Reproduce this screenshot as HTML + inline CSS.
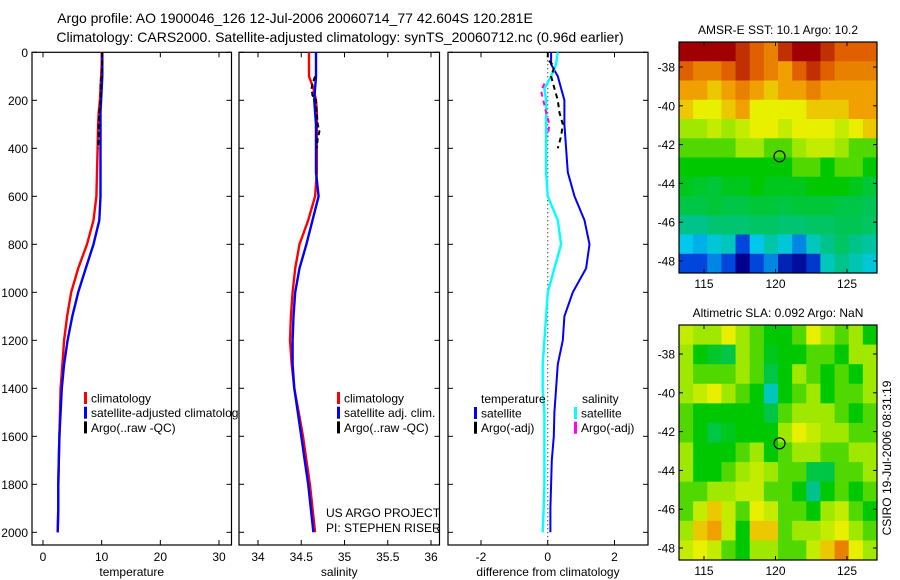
<!DOCTYPE html>
<html><head><meta charset="utf-8">
<style>
html,body{margin:0;padding:0;background:#fff;}
svg{display:block;font-family:"Liberation Sans",sans-serif;}
</style></head>
<body>
<svg id="fig" width="900" height="580" viewBox="0 0 900 580" xmlns="http://www.w3.org/2000/svg">
<text x="295" y="23" font-size="14" text-anchor="middle">Argo profile: AO 1900046_126 12-Jul-2006 20060714_77 42.604S 120.281E</text>
<text x="340" y="42" font-size="14" text-anchor="middle">Climatology: CARS2000. Satellite-adjusted climatology: synTS_20060712.nc (0.96d earlier)</text>
<g id="p1"></g>
<g id="p2"></g>
<g id="p3"></g>
<g id="m1"></g>
<g id="m2"></g>
</svg>
<script>
const depths=[0,50,100,150,200,250,300,400,500,600,700,800,900,1000,1100,1200,1300,1400,1500,1600,1700,1800,1900,2000];
const tempClim=[10,10,9.9,9.8,9.7,9.5,9.4,9.3,9.2,9.1,8.6,7.5,6.0,4.8,4.1,3.6,3.3,3.0,2.9,2.8,2.7,2.6,2.6,2.5];
const tempSat=[10.1,10.1,10.1,10.0,9.9,9.8,9.8,9.8,9.8,9.8,9.6,8.6,7.3,6.0,5.0,4.2,3.6,3.2,3.0,2.8,2.7,2.6,2.6,2.5];
const argoTDepth=[0,50,100,130,160,200,250,300,350,400];
const argoTemp=[10.1,10.1,10.0,9.8,9.9,9.8,9.6,9.5,9.5,9.4];
const salClim=[34.59,34.59,34.59,34.64,34.67,34.68,34.68,34.68,34.68,34.66,34.58,34.48,34.43,34.40,34.38,34.37,34.39,34.42,34.47,34.52,34.56,34.60,34.63,34.66];
const salSat=[34.67,34.67,34.67,34.66,34.65,34.66,34.67,34.67,34.67,34.70,34.63,34.56,34.48,34.43,34.41,34.40,34.40,34.42,34.46,34.50,34.54,34.58,34.61,34.64];
const argoSDepth=[100,130,150,180,200,250,300,330,360,400];
const argoSal=[34.66,34.63,34.62,34.63,34.67,34.68,34.69,34.71,34.69,34.68];
const diffTSat=[0.1,0.1,0.3,0.4,0.5,0.5,0.5,0.55,0.6,0.8,1.1,1.25,1.15,0.75,0.5,0.45,0.3,0.25,0.2,0.18,0.12,0.1,0.08,0.08];
const diffSSat=[0.3,0.25,0.1,-0.1,-0.05,-0.05,-0.05,-0.05,-0.05,0.0,0.3,0.4,0.2,0.0,-0.05,-0.1,-0.15,-0.15,-0.1,-0.1,-0.1,-0.1,-0.12,-0.15];
const argoDTDepth=[0,30,60,100,150,200,250,300,350,400];
const argoDiffT=[0.0,0.0,0.2,0.1,0.2,0.3,0.35,0.45,0.4,0.3];
const argoDSDepth=[130,160,190,220,250,300,350];
const argoDiffS=[-0.1,-0.2,-0.15,-0.1,-0.05,0.05,0.0];
const depthTicks=[0,200,400,600,800,1000,1200,1400,1600,1800,2000];
const tempTicks=[0,10,20,30];
const salTicks=[34,34.5,35,35.5,36];
const salTickLabels=["34","34.5","35","35.5","36"];
const diffTicks=[-2,0,2];
const latTicks=[-38,-40,-42,-44,-46,-48];
const lonTicks=[115,120,125];
const sstGrid=[
[9,9,9,9,8.5,8,7.5,8.5,9,9,8.5,8,8,8],
[8,7.5,7.5,8,8.5,8,7.5,7,8,8.5,8,7.5,7.5,7.5],
[7,7,6.5,7,7.5,7,6.5,7,7,7.5,7,7,7,7],
[6.5,6,6,6.5,7,6,6,6,6,6.5,6.5,6.5,7,7],
[5,5,5.5,5,5.5,6,6,5.5,6,6,6,5.5,6,6.5],
[4.5,4.5,4.5,4.5,5,5,4.5,4.5,5,5.5,5.5,5,4.5,4.5],
[4,4,4,4,4,4,4,4,4.5,4.5,4,4.5,4.5,4],
[3.8,3.7,3.6,3.8,3.8,4,3.8,3.8,3.8,4,4,4,3.8,3.6],
[3.5,3.5,3.6,3.5,3.5,3.6,3.6,3.5,3.6,3.6,3.6,3.5,3.5,3.4],
[3,3,3.2,3.2,3.2,3.3,3.3,3.2,3.2,3.3,3.3,3.4,3.4,3.3],
[2,1.8,2.2,2.5,1,2,2.7,2.2,1.5,2.5,3,3.3,3,2.8],
[1,1,1.5,1,0,1,1.5,0.5,0.2,0.8,2.5,3,2.6,2.2]];
const slaGrid=[
[5.5,5,5,6,5,4.5,4,4,4.5,6,5,4.5,5,4],
[5,4,3.7,3.5,5,4.5,3.8,4,4,4.5,4.5,4,5,5],
[5,4.5,4.5,4.5,5,4.5,3.5,4,5,4.5,4,4.5,4,5],
[5,5.5,6,5,4.5,4,2.5,4,4.5,5,4,4.5,4.5,5],
[4.5,4,4,4,4,4,3.5,4.5,5,5,5,4.5,4,4.5],
[4.5,4,3.5,3.8,4,4,4,5,6,5.5,5,5,4.5,4.5],
[5,4,4,4,4.5,5,4,4.5,5,5,4.5,4.5,5,5],
[5,4,4,4.5,5,5.5,5,4.5,4.5,3.5,3.5,4.5,4.5,5],
[4.5,4.5,5,5,5.5,5.5,4.5,4.5,4,3,4,4.5,4,4.5],
[4.5,5.5,6.5,5.5,4.5,6,5.5,4.5,4.5,4,5,5.5,4.5,4],
[5,6.5,7,5.5,4,6.5,6.5,4.5,5,5,5.5,6,5,4.5],
[5.5,6,5.5,4.5,4,5,5,4.5,4.5,5.5,6.5,7.5,6,5]];
const argoLon=120.281, argoLat=-42.604;

const NS="http://www.w3.org/2000/svg";
function mk(parent,tag,attrs,name,text){const e=document.createElementNS(NS,tag);for(const k in attrs)e.setAttribute(k,attrs[k]);


if(text!==undefined)e.textContent=text;parent.appendChild(e);return e;}
const Y0=52.3, YT=545;
function yD(d){return Y0+d*0.24;}
function lin(v0,p0,v1,p1){return v=>p0+(v-v0)*(p1-p0)/(v1-v0);}
function panel(g,L,R,xs,xticks,xlabels,xlabel,leftLabels){
  mk(g,'rect',{x:L,y:Y0,width:R-L,height:YT-Y0,fill:'#fff',stroke:'#000','stroke-width':1.2},'plot-area');
  depthTicks.forEach(d=>{const y=yD(d);
    mk(g,'line',{x1:L,y1:y,x2:L+5,y2:y,stroke:'#000'},'y-tick');
    mk(g,'line',{x1:R-5,y1:y,x2:R,y2:y,stroke:'#000'},'y-tick');
    if(leftLabels)mk(g,'text',{x:L-4,y:y+4.5,'font-size':12,'text-anchor':'end'},'y-tick-label',String(d));});
  xticks.forEach((t,i)=>{const x=xs(t);
    mk(g,'line',{x1:x,y1:YT,x2:x,y2:YT-5,stroke:'#000'},'x-tick');
    mk(g,'line',{x1:x,y1:Y0,x2:x,y2:Y0+5,stroke:'#000'},'x-tick');
    mk(g,'text',{x:x,y:561,'font-size':12,'text-anchor':'middle'},'x-tick-label',xlabels[i]);});
  mk(g,'text',{x:(L+R)/2,y:576,'font-size':12,'text-anchor':'middle'},'x-axis-title',xlabel);
}
function line(g,xs,vals,ds,color,name,dash,w){
  const pts=vals.map((v,i)=>xs(v).toFixed(1)+','+yD(ds[i]).toFixed(1)).join(' ');
  const a={points:pts,fill:'none',stroke:color,'stroke-width':w||2.4};if(dash)a['stroke-dasharray']=dash;
  mk(g,'polyline',a,name);
}
function legend(g,x,y,items){items.forEach((it,i)=>{const yy=y+i*14.7;
  if(it[0])mk(g,'rect',{x:x,y:yy-6,width:3,height:12,fill:it[0]},'legend-swatch');
  mk(g,'text',{x:x+7,y:yy+4.5,'font-size':12},'legend-entry',it[1]);});}

// Panel 1
const p1=document.getElementById('p1');
const xT=lin(0,43,30,219);
panel(p1,32,231.5,xT,tempTicks,tempTicks.map(String),'temperature',true);
line(p1,xT,tempClim,depths,'#f00','temp-climatology-line');
line(p1,xT,tempSat,depths,'#00f','temp-satellite-line');
line(p1,xT,argoTemp,argoTDepth,'#000','argo-temp-line','5,3',2);
legend(p1,84,398,[['#f00','climatology'],['#00f','satellite-adjusted climatology'],['#000','Argo(..raw -QC)']]);

// Panel 2
const p2=document.getElementById('p2');
const xS=lin(34,258,36,431);
panel(p2,239,439.5,xS,salTicks,salTickLabels,'salinity',false);
line(p2,xS,salClim,depths,'#f00','sal-climatology-line');
line(p2,xS,salSat,depths,'#00f','sal-satellite-line');
line(p2,xS,argoSal,argoSDepth,'#000','argo-sal-line','5,3',2);
legend(p2,337,398,[['#f00','climatology'],['#00f','satellite adj. clim.'],['#000','Argo(..raw -QC)']]);
mk(p2,'text',{x:326,y:517,'font-size':12},'project-label','US ARGO PROJECT');
mk(p2,'text',{x:326,y:532,'font-size':12},'pi-label','PI: STEPHEN RISER');

// Panel 3
const p3=document.getElementById('p3');
const xDf=lin(-2,481,2,614.5);
panel(p3,448,648,xDf,diffTicks,diffTicks.map(String),'difference from climatology',false);
mk(p3,'line',{x1:xDf(0),y1:Y0,x2:xDf(0),y2:YT,stroke:'#000','stroke-dasharray':'1,3'},'zero-line');
line(p3,xDf,diffTSat,depths,'#00f','diff-temp-satellite-line',null,2);
line(p3,xDf,diffSSat,depths,'#0ff','diff-sal-satellite-line',null,2.4);
line(p3,xDf,argoDiffT,argoDTDepth,'#000','diff-temp-argo-line','5,4',2);
line(p3,xDf,argoDiffS,argoDSDepth,'#f0f','diff-sal-argo-line','5,4',2);
mk(p3,'text',{x:481,y:403,'font-size':12},'legend-header-temperature','temperature');
mk(p3,'text',{x:582,y:403,'font-size':12},'legend-header-salinity','salinity');
legend(p3,474,413,[['#00f','satellite'],['#000','Argo(-adj)']]);
legend(p3,574,413,[['#0ff','satellite'],['#f0f','Argo(-adj)']]);

// Maps
const stops=[[0,0,140],[0,70,220],[0,200,235],[0,195,140],[0,200,0],[160,232,0],[232,240,0],[240,160,0],[224,96,0],[160,0,0]];
function col(v){v=Math.max(0,Math.min(9,v));const i=Math.min(8,Math.floor(v)),f=v-i;const a=stops[i],b=stops[i+1];
  return 'rgb('+a.map((c,k)=>Math.round(c+(b[k]-c)*f)).join(',')+')';}
function map(g,top,bot,grid,title,lat38y,lat48y){
  const L=679,R=877;const xL=lin(115,704,125,847);const yL=lin(-38,lat38y,-48,lat48y);
  const rows=grid.length,cols=grid[0].length;const cw=(R-L)/cols,ch=(bot-top)/rows;
  grid.forEach((row,r)=>row.forEach((v,c)=>{mk(g,'rect',{x:(L+c*cw).toFixed(2),y:(top+r*ch).toFixed(2),width:(cw+0.5).toFixed(2),height:(ch+0.5).toFixed(2),fill:col(v)},'map-cell');}));
  mk(g,'rect',{x:L,y:top,width:R-L,height:bot-top,fill:'none',stroke:'#000','stroke-width':1.2},'map-frame');
  latTicks.forEach(t=>{const y=yL(t);
    mk(g,'line',{x1:L,y1:y,x2:L+4,y2:y,stroke:'#000'},'lat-tick');
    mk(g,'line',{x1:R-4,y1:y,x2:R,y2:y,stroke:'#000'},'lat-tick');
    mk(g,'text',{x:L-4,y:y+4.5,'font-size':12,'text-anchor':'end'},'lat-tick-label',String(t));});
  lonTicks.forEach(t=>{const x=xL(t);
    mk(g,'line',{x1:x,y1:bot,x2:x,y2:bot-4,stroke:'#000'},'lon-tick');
    mk(g,'line',{x1:x,y1:top,x2:x,y2:top+4,stroke:'#000'},'lon-tick');
    mk(g,'text',{x:x,y:bot+15,'font-size':12,'text-anchor':'middle'},'lon-tick-label',String(t));});
  mk(g,'circle',{cx:xL(argoLon),cy:yL(argoLat),r:5.5,fill:'none',stroke:'#000','stroke-width':1.2},'argo-location-marker');
  mk(g,'text',{x:(L+R)/2,y:top-8,'font-size':12,'text-anchor':'middle'},'map-title',title);
}
map(document.getElementById('m1'),42,273,sstGrid,'AMSR-E SST: 10.1 Argo: 10.2',67,261);
map(document.getElementById('m2'),325,560,slaGrid,'Altimetric SLA: 0.092 Argo: NaN',354,548);
mk(document.getElementById('m2'),'text',{x:0,y:0,'font-size':12,'text-anchor':'middle',transform:'translate(891,458) rotate(-90)'},'timestamp-label','CSIRO 19-Jul-2006 08:31:19');
</script>
</body></html>
